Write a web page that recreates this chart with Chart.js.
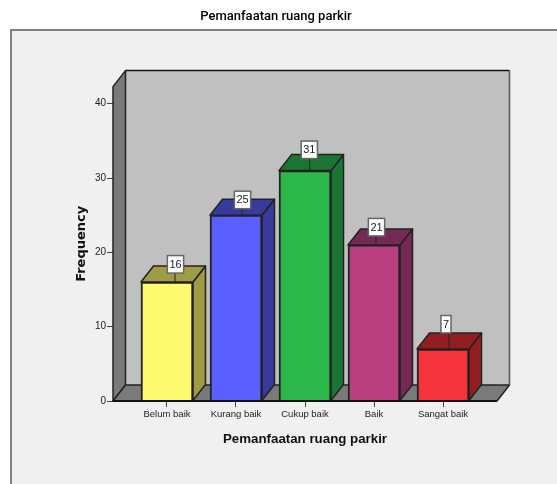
<!DOCTYPE html>
<html>
<head>
<meta charset="utf-8">
<title>Pemanfaatan ruang parkir</title>
<script src="https://cdn.jsdelivr.net/npm/chart.js@4"></script>
<style>
  html, body { margin: 0; padding: 0; background: #fff; overflow: hidden; }
  canvas { display: block; }
</style>
</head>
<body>
<canvas id="chart" width="557" height="484"></canvas>
<script>
// ── Data ─────────────────────────────────────────────────────────
const categories = ['Belum baik', 'Kurang baik', 'Cukup baik', 'Baik', 'Sangat baik'];
const frequency  = [16, 25, 31, 21, 7];
const yTicks     = [0, 10, 20, 30, 40];

// ── Styling ──────────────────────────────────────────────────────
const frontColors = ['#FFF96D', '#5B5FFF', '#2DB84B', '#BA3F80', '#F5333B'];
const sideColors  = ['#A09C45', '#383A9C', '#1B7434', '#752A55', '#931E22'];
const labelLift   = [9, 6.5, 12, 9, 16];       // gap between bar top and its value box
const labelShift  = [8.5, 6.5, 4.3, 2.5, 3];   // value box offset from the bar centre
const leaderShift = [8, 6, 4.7, 2, 6];         // leader line offset from the bar centre
const DEPTH_X = 12.5, DEPTH_Y = 16;
const EDGE = '#222';

function poly(ctx, pts, fill, stroke, width) {
  ctx.beginPath();
  pts.forEach((p, i) => i ? ctx.lineTo(p[0], p[1]) : ctx.moveTo(p[0], p[1]));
  ctx.closePath();
  if (fill) { ctx.fillStyle = fill; ctx.fill(); }
  if (stroke) { ctx.strokeStyle = stroke; ctx.lineWidth = width || 1.5; ctx.lineJoin = 'round'; ctx.stroke(); }
}

// grey panel behind the plot, it runs off the right and bottom of the page
const framePlugin = {
  id: 'frame',
  beforeDraw(chart) {
    const ctx = chart.ctx;
    ctx.save();
    ctx.fillStyle = '#F0F0F0';
    ctx.fillRect(10, 29, chart.width, chart.height);
    ctx.strokeStyle = '#808080';
    ctx.lineWidth = 2;
    ctx.strokeRect(11, 30, chart.width, chart.height);
    ctx.restore();
  }
};

// walls, floor and the side/top faces of the bars
const box3dPlugin = {
  id: 'box3d',
  beforeDatasetsDraw(chart) {
    const ctx = chart.ctx;
    const { left, right, top, bottom } = chart.chartArea;
    ctx.save();
    poly(ctx, [[left + DEPTH_X, top - DEPTH_Y], [right + DEPTH_X, top - DEPTH_Y],
               [right + DEPTH_X, bottom - DEPTH_Y], [left + DEPTH_X, bottom - DEPTH_Y]], '#C0C0C0');
    poly(ctx, [[left, top], [left + DEPTH_X, top - DEPTH_Y],
               [left + DEPTH_X, bottom - DEPTH_Y], [left, bottom]], '#7A7A7A', EDGE);
    poly(ctx, [[left, bottom], [right, bottom],
               [right + DEPTH_X, bottom - DEPTH_Y], [left + DEPTH_X, bottom - DEPTH_Y]], '#7A7A7A', EDGE);
    // back wall edges
    ctx.strokeStyle = '#111';
    ctx.lineWidth = 1.5;
    ctx.beginPath();
    ctx.moveTo(left + DEPTH_X, top - DEPTH_Y);
    ctx.lineTo(right + DEPTH_X, top - DEPTH_Y);
    ctx.stroke();
    ctx.strokeStyle = '#555';
    ctx.beginPath();
    ctx.moveTo(right + DEPTH_X, top - DEPTH_Y);
    ctx.lineTo(right + DEPTH_X, bottom - DEPTH_Y);
    ctx.stroke();

    chart.getDatasetMeta(0).data.forEach((bar, i) => {
      const l = bar.x - bar.width / 2, r = bar.x + bar.width / 2;
      const t = bar.y, b = bar.base;
      poly(ctx, [[r, t], [r + DEPTH_X, t - DEPTH_Y], [r + DEPTH_X, b - DEPTH_Y], [r, b]], sideColors[i], EDGE);
      poly(ctx, [[l, t], [r, t], [r + DEPTH_X, t - DEPTH_Y], [l + DEPTH_X, t - DEPTH_Y]], sideColors[i], EDGE);
    });
    ctx.restore();
  },
  afterDatasetsDraw(chart) {
    const ctx = chart.ctx;
    const { left, right, bottom } = chart.chartArea;
    ctx.save();
    ctx.strokeStyle = '#111';
    ctx.lineWidth = 2;
    ctx.beginPath();
    ctx.moveTo(left, bottom);
    ctx.lineTo(right, bottom);
    ctx.stroke();

    // value boxes with their little leader line
    ctx.font = '11px "Liberation Sans"';
    ctx.textAlign = 'center';
    ctx.textBaseline = 'middle';
    chart.getDatasetMeta(0).data.forEach((bar, i) => {
      const text = String(frequency[i]);
      const w = ctx.measureText(text).width + 4;
      const h = 17.5;
      const cx = bar.x + labelShift[i];
      const lx = bar.x + leaderShift[i];
      const boxBottom = bar.y - labelLift[i];
      ctx.strokeStyle = '#222';
      ctx.lineWidth = 1;
      ctx.beginPath();
      ctx.moveTo(lx, bar.y);
      ctx.lineTo(lx, boxBottom);
      ctx.stroke();
      ctx.fillStyle = '#fff';
      ctx.fillRect(cx - w / 2, boxBottom - h, w, h);
      ctx.strokeStyle = '#666';
      ctx.lineWidth = 1.5;
      ctx.strokeRect(cx - w / 2, boxBottom - h, w, h);
      ctx.fillStyle = '#222';
      ctx.fillText(text, cx, boxBottom - h / 2 + 0.5);
    });
    ctx.restore();
  }
};

new Chart(document.getElementById('chart'), {
  type: 'bar',
  plugins: [framePlugin, box3dPlugin],
  data: {
    datasets: [{
      data: categories.map((c, i) => ({ x: i, y: frequency[i] })),
      backgroundColor: frontColors,
      borderColor: EDGE,
      borderWidth: 2,
      barThickness: 52
    }]
  },
  options: {
    responsive: false,
    animation: false,
    layout: { padding: { left: 55, right: 60, top: 0, bottom: 36 } },
    plugins: {
      legend: { display: false },
      tooltip: { enabled: false },
      title: {
        display: true,
        text: 'Pemanfaatan ruang parkir',
        color: '#000',
        font: { family: 'Roboto', size: 13, weight: '500' },
        padding: { top: 9, bottom: 62 }
      }
    },
    scales: {
      x: {
        type: 'linear',
        offset: false,
        // bars sit 69px apart on a floor that is 384px wide
        min: -0.7826,
        max: 4.7826,
        afterBuildTicks(scale) { scale.ticks = categories.map((c, i) => ({ value: i })); },
        afterFit(scale) { scale.height = 47; },
        grid: { offset: false, drawOnChartArea: false, drawTicks: true, tickLength: 6, color: '#444' },
        border: { display: false },
        ticks: {
          autoSkip: false,
          maxRotation: 0,
          padding: 2,
          color: '#222',
          font: { family: '"Liberation Sans"', size: 9.5 },
          callback: (v) => categories[v]
        },
        title: {
          display: true,
          text: 'Pemanfaatan ruang parkir',
          color: '#111',
          font: { family: '"Liberation Sans"', size: 13.3, weight: 'bold' },
          padding: { top: 0, bottom: 1 }
        }
      },
      y: {
        min: 0,
        max: 42.3,
        afterBuildTicks(scale) { scale.ticks = yTicks.map(v => ({ value: v })); },
        afterFit(scale) { scale.width = 58; },
        grid: { drawOnChartArea: false, drawTicks: true, tickLength: 6, color: '#444' },
        border: { display: false },
        ticks: {
          padding: 1,
          color: '#222',
          font: { family: '"Liberation Sans"', size: 10 }
        },
        title: {
          display: true,
          text: 'Frequency',
          color: '#111',
          font: { family: '"DejaVu Sans"', size: 13, weight: 'bold' },
          padding: { top: 19, bottom: 0 }
        }
      }
    }
  }
});
</script>
</body>
</html>
